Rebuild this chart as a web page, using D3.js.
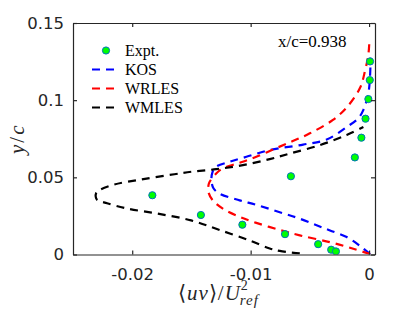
<!DOCTYPE html>
<html>
<head>
<meta charset="utf-8">
<script src="https://cdn.jsdelivr.net/npm/d3@7"></script>
<style>
  body { margin: 0; background: #fff; }
</style>
</head>
<body>
<div id="vis"></div>
<script>
// experiment points (x = <uv>/Uref^2, y = y/c)
var expt_x = [-0.0183, -0.0142, -0.0107, -0.0066, -0.0071, -0.0043, -0.0032, -0.0028, -0.0012, -0.00065, -0.0003, -0.00006, 0.00006, 0.00008]
var expt_y = [0.0384, 0.0256, 0.0193, 0.0507, 0.0132, 0.0067, 0.0031, 0.0020, 0.0629, 0.0757, 0.0880, 0.1007, 0.1130, 0.1251]

// KOS
var kos_x = [0.00008, -0.00076, -0.00189, -0.0033, -0.00443, -0.00585, -0.00726, -0.00952, -0.01093, -0.01263, -0.01314, -0.01331, -0.01322, -0.01291, -0.01178, -0.01036, -0.00839, -0.00557, -0.00358, -0.00189, -0.00091, -0.00048, -0.00006, 0.00008, 0.00013]
var kos_y = [0.0003, 0.0055, 0.0113, 0.0156, 0.0189, 0.0232, 0.0267, 0.0322, 0.0351, 0.0395, 0.0429, 0.0481, 0.0534, 0.0569, 0.0601, 0.0633, 0.0677, 0.0712, 0.0745, 0.0826, 0.0883, 0.0937, 0.1046, 0.1154, 0.1275]

// WRLES
var wrles_x = [0.00008, -0.00133, -0.0033, -0.00585, -0.00754, -0.00952, -0.01093, -0.01235, -0.0132, -0.01356, -0.01356, -0.01347, -0.01291, -0.01235, -0.01093, -0.00952, -0.00782, -0.00644, -0.005, -0.00305, -0.00189, -0.00076, -0.00034, -0.00006, 0.00003]
var wrles_y = [0.0003, 0.0037, 0.0080, 0.0124, 0.0159, 0.0205, 0.0244, 0.0297, 0.0351, 0.0403, 0.0449, 0.0470, 0.0525, 0.0558, 0.0594, 0.0633, 0.0690, 0.0735, 0.0785, 0.0872, 0.0953, 0.1080, 0.1191, 0.1295, 0.1392]

// WMLES
var wmles_x = [-0.00585, -0.00754, -0.00839, -0.01008, -0.01263, -0.01503, -0.01786, -0.0204, -0.02212, -0.02297, -0.02308, -0.02305, -0.0228, -0.02153, -0.01926, -0.01644, -0.01492, -0.01291, -0.01066, -0.00839, -0.00669, -0.00415, -0.00189, -0.00048]
var wmles_y = [0.0007, 0.0023, 0.0039, 0.0091, 0.0159, 0.0221, 0.0265, 0.0297, 0.0332, 0.0355, 0.0373, 0.0397, 0.0416, 0.0453, 0.0486, 0.0520, 0.0537, 0.0553, 0.0579, 0.0618, 0.0654, 0.0709, 0.0774, 0.0826]

var x_ticks = [-0.02, -0.01, 0]
var x_tick_labels = ['-0.02', '-0.01', '0']
var y_ticks = [0, 0.05, 0.1, 0.15]
var y_tick_labels = ['0', '0.05', '0.1', '0.15']

var series = [
    { name: 'KOS', xs: kos_x, ys: kos_y, color: '#0000FF' },
    { name: 'WRLES', xs: wrles_x, ys: wrles_y, color: '#FF0000' },
    { name: 'WMLES', xs: wmles_x, ys: wmles_y, color: '#000000' }
]

function draw_chart() {
    var width = 415, height = 312
    // axes box in pixels
    var ax_l = 73, ax_r = 375, ax_t = 23, ax_b = 254.5

    var svg = d3.select('#vis')
        .append('svg')
        .attr('width', width)
        .attr('height', height)

    var x = d3.scaleLinear().domain([-0.025, 0.0005]).range([ax_l, ax_r])
    var y = d3.scaleLinear().domain([0, 0.15]).range([ax_b, ax_t])

    svg.append('clipPath').attr('id', 'clip')
        .append('rect')
        .attr('x', ax_l).attr('y', ax_t)
        .attr('width', ax_r - ax_l).attr('height', ax_b - ax_t)

    // curves
    var line = d3.line()
        .x(function (d) { return x(d[0]) })
        .y(function (d) { return y(d[1]) })
        .curve(d3.curveCatmullRom.alpha(0.5))

    var plot = svg.append('g').attr('clip-path', 'url(#clip)')

    series.forEach(function (s) {
        plot.append('path')
            .datum(d3.zip(s.xs, s.ys))
            .attr('d', line)
            .attr('fill', 'none')
            .attr('stroke', s.color)
            .attr('stroke-width', 2.2)
            .attr('stroke-dasharray', '8,6')
    })

    // experiment markers
    plot.selectAll('circle.expt')
        .data(d3.zip(expt_x, expt_y))
        .enter()
        .append('circle')
        .attr('class', 'expt')
        .attr('cx', function (d) { return x(d[0]) })
        .attr('cy', function (d) { return y(d[1]) })
        .attr('r', 3.6)
        .attr('fill', '#00FF00')
        .attr('stroke', '#0072BD')
        .attr('stroke-width', 1)

    // axes (box with inward ticks on all sides)
    var axis_color = '#262626'
    var xb = d3.axisBottom(x).tickValues(x_ticks).tickSizeInner(-4).tickSizeOuter(0)
        .tickFormat(function (d, i) { return x_tick_labels[i] }).tickPadding(14)
    var xt = d3.axisTop(x).tickValues(x_ticks).tickSizeInner(-4).tickSizeOuter(0).tickFormat('')
    var yl = d3.axisLeft(y).tickValues(y_ticks).tickSizeInner(-4).tickSizeOuter(0)
        .tickFormat(function (d, i) { return y_tick_labels[i] }).tickPadding(9)
    var yr = d3.axisRight(y).tickValues(y_ticks).tickSizeInner(-4).tickSizeOuter(0).tickFormat('')

    function style_axis(g) {
        g.selectAll('path').attr('stroke', axis_color).attr('stroke-width', 1.2)
        g.selectAll('line').attr('stroke', axis_color).attr('stroke-width', 1.2)
        g.selectAll('text')
            .attr('fill', axis_color)
            .style('font-family', 'DejaVu Sans, sans-serif')
            .style('font-size', '16.5px')
    }

    svg.append('g').attr('transform', `translate(0,${ax_b})`).call(xb).call(style_axis)
    svg.append('g').attr('transform', `translate(0,${ax_t})`).call(xt).call(style_axis)
    svg.append('g').attr('transform', `translate(${ax_l},0)`).call(yl).call(style_axis)
    svg.append('g').attr('transform', `translate(${ax_r},0)`).call(yr).call(style_axis)

    // axis labels
    var serif = 'Liberation Serif, Times New Roman, serif'
    var xlab = svg.append('text')
        .attr('x', 178).attr('y', 300)
        .attr('fill', axis_color)
        .style('font-family', serif)
        .style('font-size', '21px')
        .style('letter-spacing', '1px')
    xlab.append('tspan').text('\u27E8')
    xlab.append('tspan').style('font-style', 'italic').text('uv')
    xlab.append('tspan').text('\u27E9/')
    xlab.append('tspan').style('font-style', 'italic').text('U')
    xlab.append('tspan').attr('dy', -10).style('font-size', '14px').text('2')
    xlab.append('tspan').attr('dx', -9).attr('dy', 15).style('font-size', '15px').style('font-style', 'italic').text('ref')

    var ylab = svg.append('text')
        .attr('transform', `translate(24,${(ax_t + ax_b) / 2}) rotate(-90)`)
        .attr('text-anchor', 'middle')
        .attr('fill', axis_color)
        .style('font-family', serif)
        .style('font-size', '21px')
        .style('letter-spacing', '2px')
    ylab.append('tspan').style('font-style', 'italic').text('y')
    ylab.append('tspan').text('/')
    ylab.append('tspan').style('font-style', 'italic').text('c')

    // annotation
    svg.append('text')
        .attr('x', 278).attr('y', 47)
        .style('font-family', serif)
        .style('font-size', '17px')
        .text('x/c=0.938')

    // legend
    var legend = svg.append('g')
    var leg_y0 = 50.5, leg_dy = 19
    var leg_font = '16px'
    legend.append('circle')
        .attr('cx', 106).attr('cy', leg_y0).attr('r', 3.6)
        .attr('fill', '#00FF00').attr('stroke', '#0072BD').attr('stroke-width', 1)
    legend.append('text')
        .attr('x', 125).attr('y', leg_y0 + 5)
        .style('font-family', serif).style('font-size', leg_font)
        .text('Expt.')
    series.forEach(function (s, i) {
        var ly = leg_y0 + leg_dy * (i + 1)
        legend.append('line')
            .attr('x1', 92).attr('x2', 115).attr('y1', ly).attr('y2', ly)
            .attr('stroke', s.color).attr('stroke-width', 2.2)
            .attr('stroke-dasharray', '8,6')
        legend.append('text')
            .attr('x', 125).attr('y', ly + 5)
            .style('font-family', serif).style('font-size', leg_font)
            .text(s.name)
    })
}

draw_chart()
</script>
</body>
</html>
